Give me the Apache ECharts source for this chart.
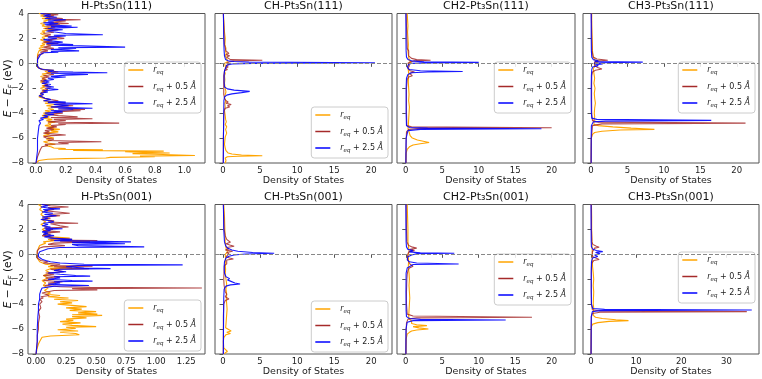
<!DOCTYPE html>
<html>
<head>
<meta charset="utf-8">
<script src="https://cdn.jsdelivr.net/npm/echarts@6/dist/echarts.min.js"></script>
<style>
  html, body { margin: 0; padding: 0; background: #fff; }
  #chart { width: 762px; height: 379px; }
</style>
</head>
<body>
<div id="chart"></div>
<script>
// each series: [energy (eV), density of states], top to bottom
const h111Eq = [[4.0,0.02],[3.9,0.06],[3.8,0.03],[3.7,0.08],[3.6,0.04],[3.5,0.1],[3.4,0.05],[3.3,0.07],[3.2,0.03],[3.1,0.06],[3.0,0.04],[2.9,0.09],[2.8,0.05],[2.7,0.12],[2.6,0.04],[2.5,0.06],[2.4,0.03],[2.3,0.05],[2.2,0.08],[2.1,0.04],[2.0,0.06],[1.9,0.03],[1.8,0.05],[1.7,0.09],[1.6,0.04],[1.5,0.06],[1.4,0.03],[1.3,0.05],[1.2,0.02],[1.1,0.04],[1.0,0.02],[0.9,0.03],[0.7,0.01],[0.4,0.01],[0.0,0.01],[-0.3,0.01],[-0.45,0.03],[-0.55,0.12],[-0.65,0.06],[-0.75,0.1],[-0.85,0.04],[-0.95,0.07],[-1.05,0.03],[-1.15,0.06],[-1.3,0.04],[-1.4,0.07],[-1.5,0.03],[-1.6,0.05],[-1.7,0.08],[-1.8,0.04],[-1.9,0.06],[-2.0,0.03],[-2.1,0.05],[-2.2,0.07],[-2.3,0.04],[-2.4,0.05],[-2.5,0.03],[-2.6,0.04],[-2.7,0.02],[-2.8,0.05],[-2.9,0.08],[-3.0,0.05],[-3.1,0.1],[-3.2,0.06],[-3.3,0.12],[-3.4,0.07],[-3.5,0.14],[-3.6,0.08],[-3.7,0.12],[-3.8,0.06],[-3.9,0.1],[-4.0,0.05],[-4.1,0.08],[-4.2,0.04],[-4.3,0.09],[-4.4,0.05],[-4.5,0.11],[-4.6,0.07],[-4.7,0.13],[-4.8,0.08],[-4.9,0.1],[-5.0,0.06],[-5.1,0.12],[-5.2,0.08],[-5.3,0.16],[-5.4,0.1],[-5.5,0.15],[-5.6,0.06],[-5.7,0.09],[-5.8,0.05],[-5.9,0.08],[-6.0,0.12],[-6.1,0.07],[-6.2,0.1],[-6.3,0.05],[-6.4,0.08],[-6.5,0.13],[-6.6,0.06],[-6.7,0.1],[-6.8,0.12],[-6.85,0.2],[-6.9,0.15],[-6.95,0.45],[-7.0,0.25],[-7.05,0.86],[-7.1,0.6],[-7.15,0.72],[-7.2,0.9],[-7.25,0.65],[-7.3,0.8],[-7.4,1.07],[-7.45,0.7],[-7.5,0.8],[-7.55,0.5],[-7.6,0.47],[-7.65,0.2],[-7.7,0.08],[-7.8,0.02],[-8.0,0.0]];
const h111P05 = [[4.0,0.05],[3.9,0.15],[3.85,0.06],[3.8,0.12],[3.7,0.07],[3.6,0.18],[3.55,0.08],[3.5,0.3],[3.45,0.12],[3.4,0.2],[3.3,0.1],[3.2,0.22],[3.15,0.09],[3.1,0.16],[3.0,0.07],[2.9,0.13],[2.8,0.06],[2.7,0.15],[2.6,0.08],[2.5,0.12],[2.4,0.05],[2.3,0.1],[2.2,0.06],[2.1,0.14],[2.0,0.19],[1.9,0.08],[1.8,0.11],[1.7,0.05],[1.6,0.15],[1.5,0.07],[1.4,0.1],[1.3,0.05],[1.2,0.12],[1.1,0.04],[1.0,0.08],[0.9,0.03],[0.8,0.05],[0.7,0.02],[0.5,0.01],[0.2,0.01],[0.0,0.01],[-0.3,0.01],[-0.5,0.04],[-0.6,0.1],[-0.7,0.15],[-0.8,0.07],[-0.9,0.12],[-1.0,0.05],[-1.1,0.09],[-1.2,0.04],[-1.3,0.07],[-1.4,0.03],[-1.5,0.06],[-1.6,0.04],[-1.7,0.08],[-1.8,0.05],[-1.9,0.1],[-2.0,0.06],[-2.1,0.08],[-2.2,0.04],[-2.3,0.07],[-2.4,0.03],[-2.5,0.05],[-2.6,0.03],[-2.7,0.04],[-2.8,0.06],[-2.9,0.1],[-3.0,0.15],[-3.1,0.08],[-3.2,0.2],[-3.3,0.12],[-3.4,0.25],[-3.5,0.1],[-3.6,0.2],[-3.7,0.33],[-3.75,0.15],[-3.8,0.3],[-3.9,0.12],[-4.0,0.18],[-4.1,0.08],[-4.2,0.15],[-4.3,0.28],[-4.35,0.1],[-4.45,0.38],[-4.5,0.12],[-4.6,0.2],[-4.7,0.08],[-4.8,0.56],[-4.85,0.15],[-4.9,0.2],[-5.0,0.1],[-5.1,0.14],[-5.2,0.07],[-5.3,0.12],[-5.4,0.06],[-5.5,0.09],[-5.6,0.05],[-5.75,0.2],[-5.8,0.1],[-5.9,0.05],[-6.0,0.07],[-6.1,0.12],[-6.2,0.08],[-6.3,0.44],[-6.35,0.15],[-6.45,0.22],[-6.5,0.06],[-6.6,0.08],[-6.7,0.04],[-6.8,0.05],[-6.9,0.03],[-7.0,0.02],[-7.5,0.01],[-8.0,0.0]];
const h111P25 = [[4.0,0.03],[3.9,0.1],[3.8,0.05],[3.7,0.14],[3.6,0.06],[3.5,0.2],[3.4,0.08],[3.3,0.12],[3.25,0.05],[3.2,0.15],[3.1,0.06],[3.0,0.24],[2.95,0.1],[2.9,0.28],[2.8,0.08],[2.7,0.18],[2.6,0.07],[2.5,0.14],[2.4,0.2],[2.3,0.45],[2.25,0.12],[2.2,0.2],[2.1,0.08],[2.0,0.14],[1.9,0.05],[1.8,0.1],[1.7,0.18],[1.6,0.07],[1.5,0.25],[1.45,0.1],[1.4,0.3],[1.3,0.6],[1.25,0.15],[1.2,0.27],[1.1,0.1],[1.0,0.29],[0.95,0.1],[0.9,0.15],[0.85,0.05],[0.7,0.03],[0.5,0.02],[0.3,0.01],[0.0,0.01],[-0.2,0.01],[-0.4,0.02],[-0.5,0.05],[-0.55,0.12],[-0.65,0.08],[-0.7,0.25],[-0.75,0.48],[-0.8,0.1],[-0.9,0.35],[-0.95,0.2],[-1.05,0.1],[-1.1,0.2],[-1.2,0.08],[-1.3,0.12],[-1.4,0.05],[-1.5,0.09],[-1.6,0.04],[-1.7,0.1],[-1.8,0.06],[-1.9,0.12],[-2.0,0.07],[-2.1,0.15],[-2.2,0.05],[-2.3,0.08],[-2.4,0.03],[-2.5,0.05],[-2.6,0.02],[-2.7,0.03],[-2.8,0.06],[-2.9,0.1],[-3.0,0.05],[-3.1,0.2],[-3.15,0.08],[-3.2,0.28],[-3.25,0.38],[-3.3,0.12],[-3.4,0.22],[-3.5,0.1],[-3.6,0.38],[-3.65,0.15],[-3.7,0.25],[-3.8,0.1],[-3.9,0.18],[-4.0,0.06],[-4.1,0.12],[-4.2,0.05],[-4.3,0.08],[-4.4,0.03],[-4.5,0.05],[-4.6,0.02],[-4.8,0.03],[-5.0,0.02],[-5.5,0.015],[-6.0,0.01],[-6.5,0.01],[-7.0,0.01],[-7.5,0.005],[-8.0,0.0]];

const ch111Eq = [[4.0,0.05],[3.5,0.1],[3.0,0.15],[2.5,0.2],[2.0,0.3],[1.5,0.25],[1.2,0.4],[1.0,0.3],[0.8,0.45],[0.6,0.3],[0.4,0.5],[0.25,0.3],[0.1,0.6],[0.0,0.2],[-0.2,0.3],[-0.4,0.35],[-0.6,0.2],[-0.8,0.3],[-1.0,0.2],[-1.3,0.25],[-1.6,0.2],[-2.0,0.3],[-2.3,0.4],[-2.5,0.3],[-2.8,0.2],[-3.0,0.4],[-3.2,0.25],[-3.5,0.3],[-3.8,0.2],[-4.2,0.3],[-4.5,0.35],[-4.7,0.45],[-4.9,0.3],[-5.1,0.5],[-5.3,0.35],[-5.6,0.5],[-5.9,0.3],[-6.2,0.25],[-6.5,0.2],[-6.8,0.3],[-7.0,0.4],[-7.2,0.7],[-7.28,1.2],[-7.36,2.5],[-7.42,5.3],[-7.46,2.0],[-7.5,0.6],[-7.6,0.3],[-7.8,0.4],[-8.0,0.3]];
const ch111P05 = [[4.0,0.05],[3.0,0.1],[2.0,0.15],[1.5,0.2],[1.0,0.4],[0.8,0.8],[0.7,0.4],[0.6,0.9],[0.5,0.5],[0.4,0.7],[0.3,1.0],[0.25,5.3],[0.2,1.5],[0.1,0.8],[0.0,0.5],[-0.1,0.8],[-0.2,0.4],[-0.3,0.7],[-0.4,0.3],[-0.5,0.6],[-0.6,0.2],[-0.8,0.15],[-1.0,0.1],[-1.5,0.1],[-2.0,0.1],[-2.5,0.1],[-2.8,0.2],[-3.0,0.4],[-3.1,0.7],[-3.2,0.4],[-3.3,1.1],[-3.4,0.6],[-3.5,0.9],[-3.6,0.3],[-3.8,0.15],[-4.2,0.1],[-5.0,0.08],[-6.0,0.05],[-7.0,0.05],[-8.0,0.03]];
const ch111P25 = [[4.0,0.05],[3.0,0.08],[2.0,0.1],[1.5,0.12],[1.0,0.15],[0.6,0.2],[0.3,0.35],[0.2,0.7],[0.15,1.5],[0.1,3.5],[0.05,20.5],[0.0,4.0],[-0.05,1.2],[-0.15,0.5],[-0.3,0.3],[-0.6,0.2],[-1.0,0.15],[-1.5,0.15],[-1.9,0.2],[-2.05,0.6],[-2.15,1.5],[-2.25,3.6],[-2.35,2.5],[-2.45,1.2],[-2.55,0.5],[-2.7,0.2],[-3.0,0.12],[-4.0,0.1],[-5.0,0.08],[-6.0,0.06],[-7.0,0.05],[-8.0,0.04]];

const ch2111Eq = [[4.0,0.2],[3.5,0.25],[3.0,0.3],[2.5,0.25],[2.0,0.3],[1.5,0.35],[1.0,0.3],[0.5,0.4],[0.2,0.5],[0.1,0.8],[0.0,0.4],[-0.3,0.3],[-0.8,0.4],[-1.5,0.35],[-2.0,0.4],[-2.5,0.45],[-3.0,0.4],[-3.5,0.5],[-4.0,0.45],[-4.5,0.4],[-5.0,0.35],[-5.1,0.6],[-5.2,0.3],[-5.4,0.4],[-5.6,0.5],[-5.8,0.6],[-6.0,0.9],[-6.15,1.6],[-6.25,2.4],[-6.35,3.2],[-6.45,2.0],[-6.55,1.0],[-6.7,0.5],[-6.9,0.2],[-7.2,0.05],[-8.0,0.02]];
const ch2111P05 = [[4.0,0.05],[3.0,0.1],[2.0,0.15],[1.2,0.2],[1.0,0.4],[0.9,0.2],[0.6,0.4],[0.4,0.8],[0.3,1.5],[0.25,3.4],[0.2,1.2],[0.1,0.6],[0.0,0.3],[-0.2,0.5],[-0.4,0.3],[-0.6,0.6],[-0.7,1.2],[-0.8,0.5],[-1.0,0.9],[-1.1,0.4],[-1.3,0.2],[-2.0,0.1],[-3.0,0.1],[-4.0,0.1],[-5.0,0.15],[-5.1,0.8],[-5.17,20.0],[-5.22,2.0],[-5.3,0.4],[-5.5,0.1],[-6.5,0.05],[-8.0,0.02]];
const ch2111P25 = [[4.0,0.02],[2.0,0.03],[1.0,0.05],[0.5,0.1],[0.3,0.3],[0.2,0.8],[0.12,2.5],[0.08,10.0],[0.04,3.0],[0.0,0.8],[-0.1,0.4],[-0.3,0.2],[-0.5,0.5],[-0.6,2.0],[-0.65,7.8],[-0.7,3.0],[-0.75,0.8],[-0.9,0.3],[-1.2,0.1],[-2.0,0.05],[-3.0,0.05],[-4.0,0.05],[-5.0,0.1],[-5.15,0.5],[-5.2,3.0],[-5.25,18.6],[-5.3,2.0],[-5.4,0.3],[-6.0,0.05],[-7.0,0.03],[-8.0,0.02]];

const ch3111Eq = [[4.0,0.1],[3.0,0.1],[2.0,0.15],[1.0,0.2],[0.5,0.3],[0.2,0.6],[0.1,1.0],[0.0,0.4],[-0.2,0.6],[-0.4,0.3],[-0.8,0.4],[-1.2,0.5],[-1.6,0.4],[-2.0,0.55],[-2.4,0.45],[-2.8,0.5],[-3.2,0.6],[-3.6,0.5],[-4.0,0.45],[-4.3,0.5],[-4.6,0.4],[-4.75,0.6],[-4.9,0.4],[-5.0,1.0],[-5.1,3.0],[-5.2,5.5],[-5.25,7.2],[-5.3,8.7],[-5.35,4.0],[-5.45,1.5],[-5.55,0.5],[-5.7,0.2],[-6.0,0.05],[-7.0,0.02],[-8.0,0.01]];
const ch3111P05 = [[4.0,0.05],[2.0,0.1],[1.0,0.15],[0.5,0.3],[0.35,0.8],[0.25,2.3],[0.2,1.0],[0.1,0.5],[0.0,0.3],[-0.2,0.5],[-0.35,1.0],[-0.45,1.5],[-0.55,0.6],[-0.7,0.2],[-1.0,0.1],[-2.0,0.08],[-3.0,0.08],[-4.0,0.1],[-4.6,0.2],[-4.72,1.0],[-4.8,21.2],[-4.86,1.5],[-5.0,0.2],[-6.0,0.05],[-8.0,0.02]];
const ch3111P25 = [[4.0,0.02],[2.0,0.03],[1.0,0.05],[0.5,0.1],[0.3,0.3],[0.2,1.0],[0.15,0.5],[0.1,7.1],[0.05,1.5],[0.0,0.4],[-0.05,1.6],[-0.1,0.6],[-0.2,1.0],[-0.3,0.2],[-0.5,0.1],[-1.0,0.05],[-2.0,0.03],[-3.0,0.03],[-4.0,0.05],[-4.4,0.1],[-4.5,0.8],[-4.58,16.5],[-4.64,2.0],[-4.7,0.3],[-5.0,0.05],[-6.0,0.02],[-8.0,0.01]];

const h001Eq = [[4.0,0.02],[3.8,0.05],[3.6,0.03],[3.4,0.06],[3.2,0.04],[3.0,0.07],[2.8,0.05],[2.6,0.08],[2.4,0.04],[2.2,0.09],[2.0,0.05],[1.8,0.1],[1.6,0.06],[1.4,0.12],[1.3,0.28],[1.2,0.1],[1.1,0.15],[1.0,0.06],[0.9,0.08],[0.7,0.03],[0.5,0.02],[0.2,0.01],[0.0,0.01],[-0.3,0.01],[-0.6,0.03],[-0.8,0.08],[-0.9,0.15],[-1.0,0.1],[-1.1,0.3],[-1.15,0.12],[-1.3,0.08],[-1.5,0.12],[-1.7,0.06],[-1.9,0.1],[-2.1,0.05],[-2.3,0.08],[-2.5,0.06],[-2.7,0.1],[-2.9,0.07],[-3.1,0.12],[-3.2,0.08],[-3.3,0.2],[-3.4,0.1],[-3.5,0.27],[-3.6,0.15],[-3.7,0.35],[-3.8,0.2],[-3.9,0.3],[-4.0,0.18],[-4.1,0.3],[-4.2,0.42],[-4.3,0.25],[-4.4,0.38],[-4.5,0.28],[-4.6,0.5],[-4.7,0.35],[-4.8,0.51],[-4.85,0.3],[-4.9,0.55],[-5.0,0.3],[-5.1,0.42],[-5.2,0.25],[-5.3,0.31],[-5.4,0.2],[-5.5,0.37],[-5.6,0.22],[-5.7,0.3],[-5.8,0.5],[-5.85,0.25],[-5.95,0.33],[-6.05,0.18],[-6.15,0.35],[-6.25,0.2],[-6.35,0.33],[-6.45,0.36],[-6.55,0.12],[-6.65,0.05],[-6.8,0.04],[-7.0,0.03],[-7.2,0.02],[-7.5,0.01],[-8.0,0.0]];
const h001P05 = [[4.0,0.05],[3.9,0.12],[3.8,0.27],[3.75,0.1],[3.6,0.15],[3.5,0.07],[3.4,0.18],[3.3,0.28],[3.2,0.1],[3.1,0.2],[3.0,0.07],[2.9,0.12],[2.8,0.05],[2.7,0.15],[2.6,0.1],[2.5,0.35],[2.45,0.12],[2.3,0.2],[2.2,0.27],[2.1,0.08],[2.0,0.14],[1.9,0.06],[1.8,0.2],[1.7,0.07],[1.6,0.12],[1.5,0.05],[1.4,0.1],[1.3,0.15],[1.2,0.3],[1.15,0.12],[1.1,0.51],[1.05,0.2],[1.0,0.45],[0.9,0.15],[0.8,0.1],[0.7,0.24],[0.6,0.06],[0.5,0.03],[0.3,0.01],[0.0,0.01],[-0.3,0.01],[-0.5,0.04],[-0.6,0.1],[-0.7,0.06],[-0.8,0.2],[-0.9,0.12],[-0.95,0.47],[-1.0,0.15],[-1.1,0.3],[-1.15,0.44],[-1.2,0.12],[-1.3,0.18],[-1.4,0.23],[-1.5,0.08],[-1.6,0.15],[-1.7,0.06],[-1.8,0.2],[-1.9,0.08],[-2.0,0.15],[-2.1,0.06],[-2.2,0.22],[-2.3,0.1],[-2.4,0.15],[-2.5,0.07],[-2.6,0.2],[-2.65,0.45],[-2.7,1.38],[-2.75,0.3],[-2.85,0.51],[-2.9,0.15],[-3.0,0.1],[-3.1,0.05],[-3.2,0.08],[-3.3,0.11],[-3.4,0.04],[-3.5,0.06],[-3.6,0.03],[-3.8,0.05],[-4.0,0.03],[-4.3,0.04],[-4.6,0.02],[-5.0,0.03],[-5.5,0.02],[-6.0,0.02],[-6.5,0.01],[-7.0,0.01],[-8.0,0.0]];
const h001P25 = [[4.0,0.05],[3.9,0.1],[3.8,0.04],[3.7,0.12],[3.65,0.2],[3.6,0.06],[3.5,0.1],[3.4,0.05],[3.3,0.14],[3.2,0.07],[3.1,0.17],[3.0,0.05],[2.9,0.1],[2.8,0.04],[2.7,0.12],[2.6,0.15],[2.5,0.06],[2.4,0.1],[2.3,0.05],[2.2,0.12],[2.1,0.07],[2.05,0.22],[2.0,0.08],[1.9,0.12],[1.8,0.05],[1.7,0.1],[1.6,0.06],[1.5,0.15],[1.4,0.07],[1.3,0.12],[1.2,0.3],[1.1,0.15],[1.0,0.79],[0.95,0.3],[0.9,0.5],[0.85,0.74],[0.8,0.3],[0.7,0.35],[0.6,0.9],[0.55,0.2],[0.45,0.1],[0.3,0.1],[0.2,0.03],[0.0,0.02],[-0.2,0.02],[-0.4,0.05],[-0.5,0.08],[-0.6,0.12],[-0.7,0.2],[-0.8,0.4],[-0.85,1.22],[-0.9,0.35],[-1.0,0.25],[-1.1,0.4],[-1.15,0.62],[-1.2,0.2],[-1.3,0.15],[-1.4,0.25],[-1.5,0.1],[-1.6,0.2],[-1.7,0.33],[-1.75,0.45],[-1.8,0.15],[-1.9,0.2],[-2.0,0.1],[-2.1,0.3],[-2.15,0.47],[-2.2,0.15],[-2.3,0.2],[-2.4,0.1],[-2.5,0.44],[-2.55,0.15],[-2.7,0.05],[-2.9,0.04],[-3.2,0.03],[-3.6,0.03],[-4.0,0.02],[-4.5,0.02],[-5.0,0.015],[-6.0,0.01],[-7.0,0.01],[-8.0,0.0]];

const ch001Eq = [[4.0,0.1],[3.0,0.2],[2.0,0.25],[1.0,0.3],[0.5,0.4],[0.2,0.6],[0.0,0.3],[-0.4,0.35],[-0.8,0.3],[-1.2,0.35],[-1.6,0.3],[-2.0,0.4],[-2.4,0.5],[-2.8,0.4],[-3.2,0.5],[-3.6,0.45],[-4.0,0.5],[-4.4,0.55],[-4.8,0.5],[-5.2,0.45],[-5.6,0.4],[-5.9,0.35],[-6.05,0.6],[-6.15,1.1],[-6.25,0.5],[-6.35,1.0],[-6.45,0.4],[-6.7,0.1],[-7.0,0.05],[-7.5,0.1],[-7.8,0.6],[-7.9,0.3],[-8.0,0.2]];
const ch001P05 = [[4.0,0.05],[3.0,0.1],[2.0,0.15],[1.5,0.3],[1.2,0.5],[1.05,0.3],[0.97,1.0],[0.85,0.4],[0.75,0.9],[0.65,1.5],[0.55,0.5],[0.44,0.8],[0.35,0.3],[0.25,1.3],[0.15,0.5],[0.05,0.8],[-0.1,1.0],[-0.2,0.4],[-0.3,0.9],[-0.37,1.4],[-0.45,0.5],[-0.6,0.7],[-0.77,0.5],[-0.9,0.2],[-1.2,0.15],[-2.0,0.1],[-2.5,0.15],[-3.0,0.3],[-3.2,0.5],[-3.4,0.3],[-3.58,0.8],[-3.7,0.3],[-4.0,0.1],[-5.0,0.05],[-6.0,0.05],[-8.0,0.03]];
const ch001P25 = [[4.0,0.05],[3.0,0.08],[2.0,0.1],[1.5,0.15],[1.0,0.2],[0.7,0.35],[0.5,0.6],[0.35,1.2],[0.25,2.0],[0.15,4.0],[0.09,6.9],[0.03,3.0],[-0.05,1.5],[-0.15,0.8],[-0.3,0.4],[-0.6,0.2],[-1.0,0.15],[-1.5,0.2],[-1.8,0.4],[-1.95,0.9],[-2.05,0.6],[-2.15,1.0],[-2.3,1.6],[-2.38,2.3],[-2.45,1.0],[-2.55,0.4],[-2.8,0.15],[-3.5,0.1],[-5.0,0.08],[-6.5,0.06],[-8.0,0.05]];

const ch2001Eq = [[4.0,0.2],[3.0,0.25],[2.0,0.3],[1.0,0.3],[0.5,0.4],[0.2,0.5],[0.0,0.3],[-0.5,0.4],[-1.0,0.35],[-1.5,0.45],[-2.0,0.5],[-2.5,0.45],[-3.0,0.5],[-3.5,0.55],[-4.0,0.5],[-4.5,0.45],[-5.0,0.4],[-5.2,0.5],[-5.35,0.8],[-5.45,1.0],[-5.55,0.8],[-5.65,1.5],[-5.72,2.9],[-5.8,1.0],[-5.9,1.8],[-5.99,3.1],[-6.07,1.5],[-6.15,0.8],[-6.26,0.5],[-6.4,0.2],[-6.8,0.05],[-8.0,0.02]];
const ch2001P05 = [[4.0,0.05],[2.0,0.1],[1.0,0.15],[0.7,0.4],[0.6,0.8],[0.5,1.5],[0.4,0.6],[0.3,1.2],[0.2,0.4],[0.0,0.3],[-0.3,0.2],[-0.6,0.4],[-0.8,0.6],[-0.96,1.0],[-1.1,0.5],[-1.3,0.3],[-1.6,0.2],[-2.0,0.15],[-3.0,0.1],[-4.0,0.1],[-4.8,0.2],[-4.95,1.0],[-5.05,17.3],[-5.1,1.5],[-5.2,0.3],[-5.5,0.1],[-6.5,0.05],[-8.0,0.02]];
const ch2001P25 = [[4.0,0.02],[2.0,0.03],[1.0,0.05],[0.6,0.1],[0.4,0.3],[0.3,1.0],[0.2,0.5],[0.12,2.0],[0.09,6.65],[0.05,1.5],[-0.05,0.8],[-0.2,0.3],[-0.45,0.2],[-0.6,0.5],[-0.7,1.5],[-0.77,7.25],[-0.82,1.0],[-0.96,1.0],[-1.1,0.2],[-1.5,0.05],[-3.0,0.03],[-4.5,0.05],[-5.0,0.1],[-5.15,0.5],[-5.22,2.0],[-5.27,13.7],[-5.32,1.0],[-5.45,0.2],[-6.0,0.03],[-8.0,0.02]];

const ch3001Eq = [[4.0,0.1],[3.0,0.15],[2.0,0.15],[1.0,0.2],[0.5,0.25],[0.0,0.3],[-0.5,0.3],[-1.0,0.35],[-1.5,0.5],[-2.0,0.6],[-2.5,0.5],[-3.0,0.6],[-3.5,0.55],[-4.0,0.5],[-4.3,0.6],[-4.6,0.5],[-4.9,0.5],[-5.05,1.0],[-5.15,2.5],[-5.25,5.5],[-5.32,8.3],[-5.38,4.0],[-5.48,1.5],[-5.6,0.4],[-5.8,0.1],[-6.5,0.03],[-8.0,0.01]];
const ch3001P05 = [[4.0,0.05],[2.0,0.1],[1.0,0.2],[0.8,0.4],[0.65,1.2],[0.57,1.8],[0.5,0.8],[0.4,0.4],[0.2,0.3],[0.0,0.3],[-0.2,0.4],[-0.32,1.2],[-0.42,1.8],[-0.5,0.6],[-0.7,0.2],[-1.0,0.1],[-2.0,0.08],[-3.0,0.08],[-4.0,0.1],[-4.45,0.3],[-4.55,2.0],[-4.6,34.5],[-4.65,2.0],[-4.75,0.3],[-5.0,0.1],[-6.0,0.05],[-8.0,0.02]];
const ch3001P25 = [[4.0,0.02],[2.0,0.03],[1.0,0.05],[0.6,0.1],[0.4,0.4],[0.3,1.2],[0.22,2.6],[0.15,1.0],[0.05,2.0],[-0.05,0.8],[-0.18,1.5],[-0.3,0.3],[-0.6,0.1],[-1.5,0.05],[-3.0,0.05],[-4.0,0.1],[-4.35,0.4],[-4.42,3.0],[-4.47,35.6],[-4.52,2.0],[-4.6,0.3],[-5.0,0.05],[-8.0,0.01]];

// tick labels
const yTicks = [-8, -6, -4, -2, 0, 2, 4];
const xTicksH111 = [0, 0.2, 0.4, 0.6, 0.8, 1.0];
const xTicksH001 = [0, 0.25, 0.5, 0.75, 1.0, 1.25];
const xTicksCH = [0, 5, 10, 15, 20];
const xTicksCH3001 = [0, 10, 20, 30];

const seriesNames = ['eq', 'p05', 'p25'];
const legendLabels = {
  eq: '{i|r}{s|eq}',
  p05: '{i|r}{s|eq}{n| + 0.5 }{i|Å}',
  p25: '{i|r}{s|eq}{n| + 2.5 }{i|Å}'
};
const lineColors = { eq: '#ffa500', p05: '#a52a2a', p25: '#0000ff' };
const lineOpacity = { eq: 1, p05: 0.85, p25: 0.9 };

const FONT = 'DejaVu Sans';
const colLeft = [28, 215, 397, 583];
const colWidth = [177, 177, 178, 176];
const rowTop = [13.5, 204.5];
const rowHeight = 149.5;

const panels = [
  { title: 'H-Pt₃Sn(111)',   data: [h111Eq, h111P05, h111P25],    xMin: -0.054, xMax: 1.138, ticks: xTicksH111, dec: 1, legendTop: 62 },
  { title: 'CH-Pt₃Sn(111)',  data: [ch111Eq, ch111P05, ch111P25], xMin: -1.08, xMax: 22.8, ticks: xTicksCH, dec: 0, legendTop: 107 },
  { title: 'CH2-Pt₃Sn(111)', data: [ch2111Eq, ch2111P05, ch2111P25], xMin: -1.2, xMax: 23.2, ticks: xTicksCH, dec: 0, legendTop: 62 },
  { title: 'CH3-Pt₃Sn(111)', data: [ch3111Eq, ch3111P05, ch3111P25], xMin: -1.1, xMax: 23.05, ticks: xTicksCH, dec: 0, legendTop: 62 },
  { title: 'H-Pt₃Sn(001)',   data: [h001Eq, h001P05, h001P25],    xMin: -0.067, xMax: 1.406, ticks: xTicksH001, dec: 2, legendTop: 300 },
  { title: 'CH-Pt₃Sn(001)',  data: [ch001Eq, ch001P05, ch001P25], xMin: -1.08, xMax: 22.8, ticks: xTicksCH, dec: 0, legendTop: 301 },
  { title: 'CH2-Pt₃Sn(001)', data: [ch2001Eq, ch2001P05, ch2001P25], xMin: -1.2, xMax: 23.2, ticks: xTicksCH, dec: 0, legendTop: 254 },
  { title: 'CH3-Pt₃Sn(001)', data: [ch3001Eq, ch3001P05, ch3001P25], xMin: -1.77, xMax: 37.2, ticks: xTicksCH3001, dec: 0, legendTop: 252 }
];

const minus = v => (v < 0 ? '\u2212' + Math.abs(v) : String(v));

const grid = [], xAxis = [], yAxis = [], series = [], legend = [], graphic = [];

panels.forEach((p, i) => {
  const col = i % 4, row = Math.floor(i / 4);
  const left = colLeft[col], top = rowTop[row];
  grid.push({
    left: left, top: top, width: colWidth[col], height: rowHeight,
    show: true, borderColor: '#555', borderWidth: 1, backgroundColor: 'transparent'
  });
  xAxis.push({
    gridIndex: i, type: 'value', min: p.xMin, max: p.xMax,
    axisLine: { show: false }, splitLine: { show: false },
    axisTick: { show: true, length: 3.5, customValues: p.ticks, lineStyle: { color: '#555' } },
    axisLabel: {
      customValues: p.ticks, fontSize: 8.5, color: '#222', margin: 3, fontFamily: FONT,
      formatter: v => minus(Number(v).toFixed(p.dec))
    },
    name: 'Density of States', nameLocation: 'middle', nameGap: 12.5,
    nameTextStyle: { fontSize: 9.5, color: '#222', fontFamily: FONT }
  });
  yAxis.push({
    gridIndex: i, type: 'value', min: -8, max: 4,
    axisLine: { show: false }, splitLine: { show: false },
    axisTick: { show: true, length: 3.5, customValues: yTicks, lineStyle: { color: '#555' } },
    axisLabel: {
      show: col === 0, customValues: yTicks, fontSize: 8.5, color: '#222', margin: 4, fontFamily: FONT,
      formatter: v => minus(v)
    }
  });
  seriesNames.forEach((name, k) => {
    const s = {
      name: name, type: 'line', xAxisIndex: i, yAxisIndex: i,
      data: p.data[k].map(d => [d[1], d[0]]),
      showSymbol: false, symbol: 'none', clip: true, silent: true, animation: false,
      lineStyle: { width: 1.1, color: lineColors[name], opacity: lineOpacity[name] },
      itemStyle: { color: lineColors[name] },
      z: 2 + k
    };
    if (k === 2) {
      s.markLine = {
        silent: true, symbol: 'none', animation: false,
        label: { show: false },
        lineStyle: { type: [4, 2], color: '#888', width: 1 },
        data: [{ yAxis: 0 }]
      };
    }
    series.push(s);
  });
  legend.push({
    data: seriesNames, orient: 'vertical',
    right: 762 - (left + colWidth[col]) + 4, top: p.legendTop,
    icon: 'rect', itemWidth: 15, itemHeight: 1.5, itemGap: 6.5,
    padding: [4, 5, 4, 4], borderColor: '#ccc', borderWidth: 1, borderRadius: 3,
    backgroundColor: 'rgba(255,255,255,0.85)', selectedMode: false,
    formatter: name => legendLabels[name],
    textStyle: {
      color: '#222', fontFamily: FONT, fontSize: 8, padding: [0, 0, 0, 5],
      rich: {
        i: { fontStyle: 'italic', fontSize: 8, fontFamily: FONT, lineHeight: 12, verticalAlign: 'middle', color: '#222' },
        s: { fontStyle: 'italic', fontSize: 5.5, fontFamily: FONT, lineHeight: 6, verticalAlign: 'bottom', color: '#222' },
        n: { fontSize: 8, fontFamily: FONT, lineHeight: 12, verticalAlign: 'middle', color: '#222' }
      }
    }
  });
  graphic.push({
    type: 'text', x: left + colWidth[col] / 2, y: top - 7.5,
    style: {
      text: p.title, fill: '#111', font: '11px "DejaVu Sans"',
      align: 'center', verticalAlign: 'middle', textAlign: 'center', textVerticalAlign: 'middle'
    }
  });
});

// y-axis labels for the left column
rowTop.forEach(t => {
  graphic.push({
    type: 'text', x: 8, y: t + rowHeight / 2, rotation: Math.PI / 2,
    style: {
      text: '{i|E}{n| \u2212 }{i|E}{s|F}{n| (eV)}',
      align: 'center', verticalAlign: 'middle', textAlign: 'center', textVerticalAlign: 'middle',
      fill: '#111',
      rich: {
        i: { fontStyle: 'italic', fontSize: 10.5, fontFamily: FONT, lineHeight: 13, verticalAlign: 'middle' },
        s: { fontStyle: 'italic', fontSize: 7, fontFamily: FONT, lineHeight: 7, verticalAlign: 'bottom' },
        n: { fontSize: 10.5, fontFamily: FONT, lineHeight: 13, verticalAlign: 'middle' }
      }
    }
  });
});

const chart = echarts.init(document.getElementById('chart'), null, { renderer: 'canvas' });
chart.setOption({
  animation: false,
  backgroundColor: '#fff',
  grid: grid,
  xAxis: xAxis,
  yAxis: yAxis,
  legend: legend,
  series: series,
  graphic: graphic
});
</script>
</body>
</html>
